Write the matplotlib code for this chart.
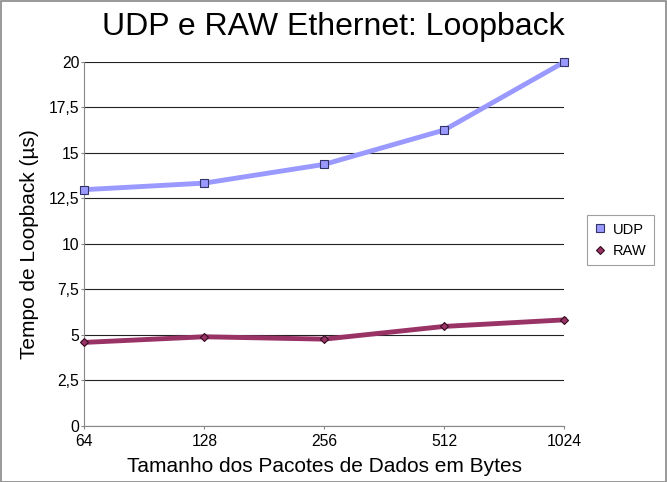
import matplotlib
matplotlib.use("Agg")
import matplotlib.pyplot as plt
from matplotlib.patches import Rectangle

plt.rcParams['font.family'] = ['Liberation Sans', 'DejaVu Sans']

sizes = ['64', '128', '256', '512', '1024']
udp = [12.98, 13.34, 14.37, 16.26, 20.0]
raw = [4.58, 4.89, 4.76, 5.46, 5.82]
yticks = [0, 2.5, 5, 7.5, 10, 12.5, 15, 17.5, 20]
ytick_labels = ['0', '2,5', '5', '7,5', '10', '12,5', '15', '17,5', '20']

fig = plt.figure(figsize=(6.67, 4.82), dpi=100)
ax = fig.add_axes([0.1264, 0.1168, 0.7196, 0.7546])

x = list(range(len(sizes)))
ax.plot(x, udp, color='#9999ff', lw=3.5, marker='s', ms=6,
        mfc='#9999ff', mec='#333366', mew=0.8, label='UDP', zorder=3, clip_on=False)
ax.plot(x, raw, color='#993366', lw=3.5, marker='D', ms=4.5,
        mfc='#993366', mec='#330a1e', mew=0.8, label='RAW', zorder=3, clip_on=False)

ax.set_xlim(0, len(sizes) - 1)
ax.set_ylim(0, 20)
ax.set_xticks(x)
ax.set_xticklabels(sizes, fontsize=11.3)
ax.set_yticks(yticks)
ax.set_yticklabels(ytick_labels, fontsize=11.3)
ax.yaxis.grid(True, color='#222222', lw=0.8)
ax.set_axisbelow(True)
for s in ['top', 'right']:
    ax.spines[s].set_visible(False)
for s in ['left', 'bottom']:
    ax.spines[s].set_color('#888888')
ax.tick_params(length=2, color='#888888')
ax.tick_params(axis='x', pad=4)
ax.tick_params(axis='y', pad=1.5)

ax.set_xlabel('Tamanho dos Pacotes de Dados em Bytes', fontsize=15, labelpad=6)
ax.set_ylabel('Tempo de Loopback (µs)', fontsize=15, labelpad=7)
fig.text(0.5, 0.945, 'UDP e RAW Ethernet: Loopback', ha='center', va='center', fontsize=23)

leg = ax.legend(loc='center left', bbox_to_anchor=(1.032, 0.51), fontsize=10.5,
                frameon=True, fancybox=False, handlelength=0.8,
                handletextpad=0.5, borderpad=0.5, labelspacing=0.5)
leg.get_frame().set_edgecolor('#888888')
leg.get_frame().set_linewidth(0.8)
for h in leg.legend_handles:
    h.set_linestyle('None')

fig.patches.append(Rectangle((0.001, 0.001), 0.997, 0.997, transform=fig.transFigure,
                             fill=False, edgecolor='#888888', lw=1.2))

fig.savefig('out.png', dpi=100)
